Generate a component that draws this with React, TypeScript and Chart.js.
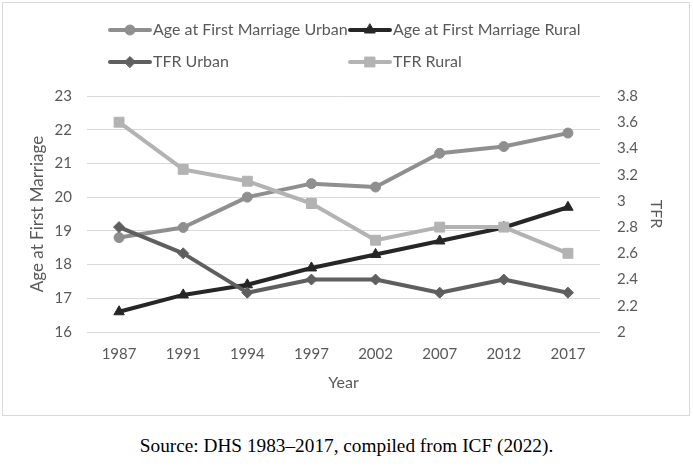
import React, { useEffect, useRef } from 'react';
import { Chart, registerables } from 'chart.js';

Chart.register(...registerables);

const years = ['1987', '1991', '1994', '1997', '2002', '2007', '2012', '2017'];
const ageUrban = [18.8, 19.1, 20.0, 20.4, 20.3, 21.3, 21.5, 21.9];
const ageRural = [16.6, 17.1, 17.4, 17.9, 18.3, 18.7, 19.1, 19.7];
const tfrUrban = [2.8, 2.6, 2.3, 2.4, 2.4, 2.3, 2.4, 2.3];
const tfrRural = [3.6, 3.24, 3.15, 2.98, 2.7, 2.8, 2.8, 2.6];
const ageTickLabels = ['16', '17', '18', '19', '20', '21', '22', '23'];
const tfrTickLabels = ['2', '2.2', '2.4', '2.6', '2.8', '3', '3.2', '3.4', '3.6', '3.8'];

const TEXT = '#595959';
const FONT = 'Lato';

function drawMarker(ctx: CanvasRenderingContext2D, style: string, x: number, y: number, r: number, color: string) {
  ctx.save();
  ctx.fillStyle = color;
  ctx.strokeStyle = color;
  ctx.lineWidth = 1;
  ctx.beginPath();
  if (style === 'circle') {
    ctx.arc(x, y, r, 0, Math.PI * 2);
  } else if (style === 'triangle') {
    ctx.moveTo(x, y - r);
    ctx.lineTo(x + r * Math.sin((2 * Math.PI) / 3), y - r * Math.cos((2 * Math.PI) / 3));
    ctx.lineTo(x + r * Math.sin((4 * Math.PI) / 3), y - r * Math.cos((4 * Math.PI) / 3));
    ctx.closePath();
  } else if (style === 'rectRot') {
    ctx.moveTo(x - r, y);
    ctx.lineTo(x, y - r);
    ctx.lineTo(x + r, y);
    ctx.lineTo(x, y + r);
    ctx.closePath();
  } else {
    const s = Math.SQRT1_2 * r;
    ctx.rect(x - s, y - s, 2 * s, 2 * s);
  }
  ctx.fill();
  ctx.stroke();
  ctx.restore();
}

const framePlugin = {
  id: 'frame',
  beforeDraw(chart: any) {
    const ctx = chart.ctx;
    ctx.save();
    ctx.strokeStyle = '#d9d9d9';
    ctx.lineWidth = 1;
    ctx.strokeRect(2.5, 2.5, 687, 413);
    ctx.restore();
  },
};

const gridLegendPlugin = {
  id: 'gridLegend',
  afterDraw(chart: any) {
    const ctx = chart.ctx;
    const cols = [110, 350];
    const rows = [30, 62];
    const len = 40;
    chart.data.datasets.forEach((ds: any, i: number) => {
      const x = cols[i % 2];
      const y = rows[Math.floor(i / 2)];
      ctx.save();
      ctx.strokeStyle = ds.borderColor;
      ctx.lineWidth = 4;
      ctx.lineCap = 'round';
      ctx.beginPath();
      ctx.moveTo(x, y);
      ctx.lineTo(x + len, y);
      ctx.stroke();
      drawMarker(ctx, ds.pointStyle, x + len / 2, y, ds.pointRadius, ds.backgroundColor);
      ctx.fillStyle = TEXT;
      ctx.font = `16px ${FONT}`;
      ctx.textBaseline = 'middle';
      ctx.textAlign = 'left';
      ctx.fillText(ds.label, x + len + 3, y);
      ctx.restore();
    });
  },
};

export default function App() {
  const ref = useRef<HTMLCanvasElement | null>(null);

  useEffect(() => {
    if (!ref.current) return;
    const mk = (label: string, data: number[], color: string, style: string, r: number, axis: string, order: number) => ({
      label,
      data,
      yAxisID: axis,
      borderColor: color,
      backgroundColor: color,
      borderWidth: 4,
      pointStyle: style,
      pointRadius: r,
      pointBorderWidth: 1,
      pointBorderColor: color,
      pointBackgroundColor: color,
      borderJoinStyle: 'round',
      tension: 0,
      order,
    });
    const chart = new Chart(ref.current, {
      type: 'line',
      data: {
        labels: years,
        datasets: [
          mk('Age at First Marriage Urban', ageUrban, '#8f8f8f', 'circle', 5, 'y', 4),
          mk('Age at First Marriage Rural', ageRural, '#262626', 'triangle', 6, 'y', 3),
          mk('TFR Urban', tfrUrban, '#5f5f5f', 'rectRot', 5.5, 'y1', 2),
          mk('TFR Rural', tfrRural, '#b3b3b3', 'rect', 7, 'y1', 1),
        ] as any,
      },
      options: {
        responsive: false,
        animation: false,
        devicePixelRatio: 1,
        layout: { padding: { top: 96, left: 0, right: 0, bottom: 0 } },
        plugins: { legend: { display: false }, tooltip: { enabled: false } },
        scales: {
          x: {
            offset: true,
            grid: { display: false, drawTicks: false, offset: true },
            border: { display: false },
            ticks: { color: TEXT, font: { family: FONT, size: 15 }, padding: 13, maxRotation: 0, autoSkip: false },
            title: { display: true, text: 'Year', color: TEXT, font: { family: FONT, size: 16 }, padding: { top: 0, bottom: 28 } },
            afterFit(s: any) { s.height = 88; },
          },
          y: {
            position: 'left',
            min: 16,
            max: 23,
            ticks: {
              stepSize: 1,
              padding: 15,
              color: TEXT,
              font: { family: FONT, size: 15 },
              callback: (v: any, i: number) => ageTickLabels[i] ?? String(v),
            },
            grid: { color: '#d9d9d9', lineWidth: 1, drawTicks: false },
            border: { display: false },
            title: { display: true, text: 'Age at First Marriage', color: TEXT, font: { family: FONT, size: 17 }, padding: { top: 27, bottom: 0 } },
            afterFit(s: any) { s.width = 87; },
          },
          y1: {
            position: 'right',
            min: 2,
            max: 3.8,
            ticks: {
              stepSize: 0.2,
              padding: 17,
              color: TEXT,
              font: { family: FONT, size: 15 },
              callback: (v: any, i: number) => tfrTickLabels[i] ?? String(Math.round(v * 10) / 10),
            },
            grid: { display: false, drawTicks: false },
            border: { display: false },
            title: { display: true, text: 'TFR', color: TEXT, font: { family: FONT, size: 16 }, padding: { top: 27, bottom: 0 } },
            afterFit(s: any) { s.width = 93; },
          },
        },
      } as any,
      plugins: [framePlugin, gridLegendPlugin],
    });
    return () => chart.destroy();
  }, []);

  return (
    <div style={{ position: 'absolute', left: 0, top: 0, width: 693, height: 466, background: '#fff' }}>
      <canvas ref={ref} width={693} height={420} style={{ display: 'block', width: 693, height: 420 }} />
      <div
        style={{
          position: 'absolute',
          left: 0,
          top: 435,
          width: 693,
          textAlign: 'center',
          fontFamily: '"Liberation Serif", "Times New Roman", serif',
          fontSize: 19.3,
          lineHeight: '22px',
          color: '#000',
        }}
      >
        Source: DHS 1983–2017, compiled from ICF (2022).
      </div>
    </div>
  );
}
